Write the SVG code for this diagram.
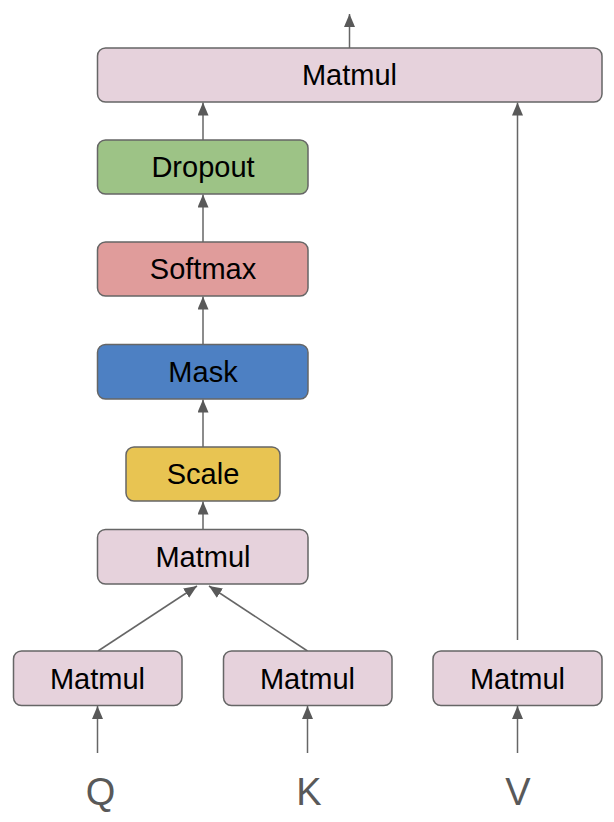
<svg xmlns="http://www.w3.org/2000/svg" width="614" height="822" viewBox="0 0 614 822">
  <defs>
    <marker id="arrow" markerUnits="userSpaceOnUse" markerWidth="14" markerHeight="12" refX="13" refY="5.5" orient="auto">
      <path d="M0,0 L13,5.5 L0,11 z" fill="#595959"/>
    </marker>
    <style>
      .box { stroke: #666666; stroke-width: 1.5; }
      .matmul { fill: #e6d2dc; }
      .dropout { fill: #9dc386; }
      .softmax { fill: #e09c9b; }
      .mask { fill: #4d80c3; }
      .scale { fill: #e8c452; }
      .label { font-family: "Liberation Sans", Arial, sans-serif; font-size: 29px; fill: #000000; text-anchor: middle; }
      .input { font-family: "Liberation Sans", Arial, sans-serif; font-size: 38px; fill: #595959; text-anchor: middle; }
      .edge { stroke: #666666; stroke-width: 1.5; fill: none; marker-end: url(#arrow); }
      .plain { stroke: #666666; stroke-width: 1.5; fill: none; }
    </style>
  </defs>

  <rect width="614" height="822" fill="#ffffff"/>

  <!-- connectors -->
  <g id="connectors">
    <line class="edge" x1="349.5" y1="48" x2="349.5" y2="14"/>
    <line class="edge" x1="203" y1="140" x2="203" y2="102.5"/>
    <line class="edge" x1="517.5" y1="640" x2="517.5" y2="102.5"/>
    <line class="edge" x1="203" y1="242" x2="203" y2="194.5"/>
    <line class="edge" x1="203" y1="344" x2="203" y2="296.5"/>
    <line class="edge" x1="203" y1="447" x2="203" y2="399.5"/>
    <line class="edge" x1="203" y1="529" x2="203" y2="501.5"/>
    <line class="edge" x1="98" y1="651" x2="197" y2="586"/>
    <line class="edge" x1="307.5" y1="651" x2="209" y2="586"/>
    <line class="edge" x1="97.5" y1="753" x2="97.5" y2="706"/>
    <line class="edge" x1="307.5" y1="753" x2="307.5" y2="706"/>
    <line class="edge" x1="517.5" y1="753" x2="517.5" y2="706"/>
  </g>

  <!-- nodes -->
  <g id="matmul-out">
    <rect class="box matmul" x="97.5" y="48" width="504.5" height="54" rx="8"/>
    <text class="label" x="349.5" y="85">Matmul</text>
  </g>
  <g id="dropout">
    <rect class="box dropout" x="97.5" y="140" width="210.5" height="54" rx="8"/>
    <text class="label" x="203" y="177">Dropout</text>
  </g>
  <g id="softmax">
    <rect class="box softmax" x="97.5" y="242" width="210.5" height="54" rx="8"/>
    <text class="label" x="203" y="279">Softmax</text>
  </g>
  <g id="mask">
    <rect class="box mask" x="97.5" y="344.5" width="210.5" height="54.5" rx="8"/>
    <text class="label" x="203" y="382">Mask</text>
  </g>
  <g id="scale">
    <rect class="box scale" x="126" y="447" width="154" height="54" rx="8"/>
    <text class="label" x="203" y="484">Scale</text>
  </g>
  <g id="matmul-qk">
    <rect class="box matmul" x="97.5" y="529.5" width="210.5" height="54.5" rx="8"/>
    <text class="label" x="203" y="567">Matmul</text>
  </g>
  <g id="matmul-q">
    <rect class="box matmul" x="13.5" y="651" width="168.5" height="54.5" rx="8"/>
    <text class="label" x="97.5" y="689">Matmul</text>
  </g>
  <g id="matmul-k">
    <rect class="box matmul" x="223.5" y="651" width="168.5" height="54.5" rx="8"/>
    <text class="label" x="307.5" y="689">Matmul</text>
  </g>
  <g id="matmul-v">
    <rect class="box matmul" x="433" y="651" width="169" height="54.5" rx="8"/>
    <text class="label" x="517.5" y="689">Matmul</text>
  </g>
  <g id="input-q">
    <text class="input" x="100.5" y="805">Q</text>
  </g>
  <g id="input-k">
    <text class="input" x="309" y="805">K</text>
  </g>
  <g id="input-v">
    <text class="input" x="518" y="805">V</text>
  </g>
</svg>
